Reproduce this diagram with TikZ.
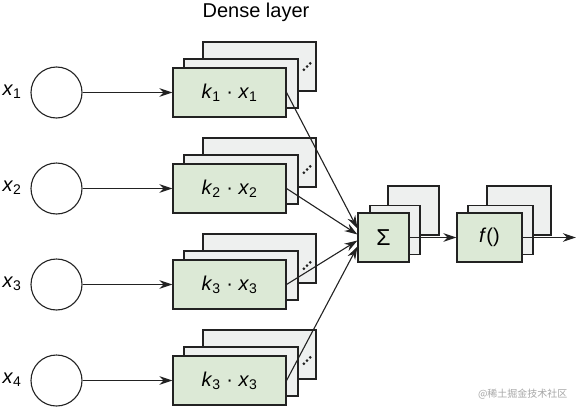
\documentclass[tikz,border=0pt]{standalone}
\usepackage{fontspec}
\setmainfont{Liberation Sans}
\newfontfamily\cjkfont{Noto Sans CJK SC}
\usetikzlibrary{arrows.meta,calc}
\definecolor{frontgreen}{HTML}{DCE9D6}
\definecolor{backgray}{HTML}{EEF0EF}
\definecolor{edge}{HTML}{222222}
\begin{document}
\begin{tikzpicture}[x=1pt,y=-1pt,
  box/.style={draw=edge, line width=1.1pt, minimum height=49pt, inner sep=0pt},
  front/.style={box, fill=frontgreen},
  back/.style={box, fill=backgray},
  conn/.style={draw=edge, line width=1.1pt, -{Stealth[length=13pt,width=8.5pt]}},
  inp/.style={circle, draw=edge, line width=1.1pt, minimum size=51pt, inner sep=0pt},
  lbl/.style={font=\fontsize{20}{24}\selectfont},
  font=\fontsize{20}{24}\selectfont]
\useasboundingbox (0,0) rectangle (576,407);
\node[lbl] (title) at (256,12) {Dense layer};
% weight stacks
\foreach \i/\y/\a/\d in {1/92.5/1/26, 2/188.5/2/19, 3/284.5/3/19, 4/380.5/3/20} {
  \node[back, minimum width=113pt] (b\i) at (259.5,\y-26) {};
  \node[back, minimum width=114pt] (m\i) at (241,\y-9) {};
  \node[front, minimum width=113pt] (f\i) at (229.5,\y) {\textit{k}\textsubscript{\a} · \textit{x}\textsubscript{\a}};
  \foreach \t in {-1,0,1} \fill[edge] (307+3.2*\t,\y-\d-3.2*\t) circle (1.5pt);
  \node[inp] (c\i) at (56.5,\y) {};
  \node[lbl] (l\i) at (12,\y-1) {\textit{x}\textsubscript{\i}};
  \draw[conn] (c\i) -- (f\i);
}
% sum stack
\node[back, minimum width=51pt] (sb) at (413.5,210.5) {};
\node[back, minimum width=50pt] (sm) at (395,230) {};
\node[front, minimum width=51pt, font=\fontsize{23}{26}\selectfont] (sf) at (383.5,237.5) {Σ};
% activation stack
\node[back, minimum width=64pt] (ab) at (519,210.5) {};
\node[back, minimum width=65pt] (am) at (500.5,230) {};
\node[front, minimum width=65pt] (af) at (489.5,237.5) {\textit{f}()};
% connectors
\foreach \i/\o in {1/-9,2/-3,3/3,4/9}
  \draw[conn] (f\i.east) -- ($(sf.west)+(0,\o)$);
\draw[conn] (sf.east) -- (af.west);
\coordinate (out) at (576,237.5);
\draw[conn] (af.east) -- (out);
\node[anchor=east, text=black!35, font=\cjkfont\fontsize{10}{12}\selectfont] (wm) at (571,394) {@稀土掘金技术社区};
\end{tikzpicture}
\end{document}
